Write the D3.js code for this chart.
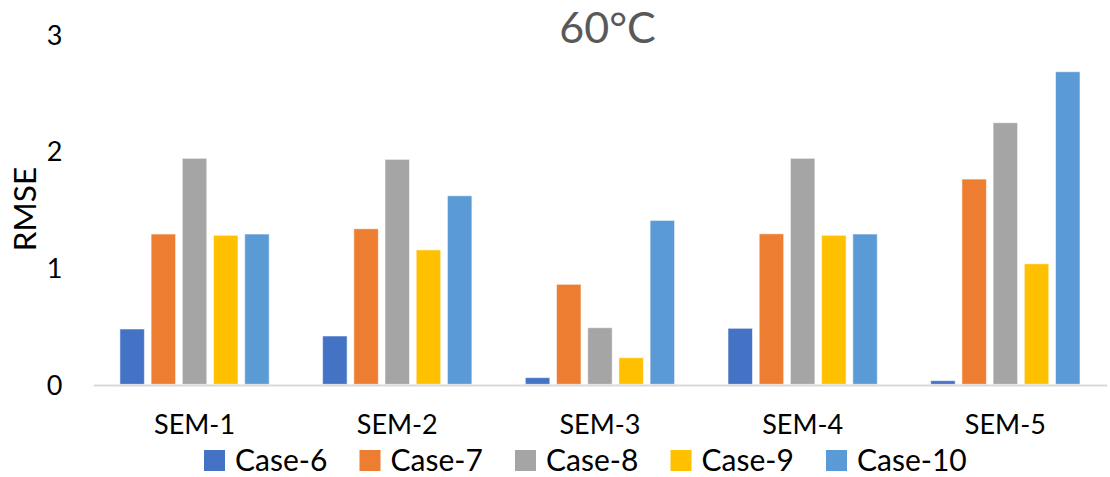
<!DOCTYPE html>
<html>
<head>
<meta charset="utf-8">
<script src="https://cdn.jsdelivr.net/npm/d3@7/dist/d3.min.js"></script>
<style>
  html, body { margin: 0; padding: 0; background: #ffffff; }
  svg { display: block; }
  text { font-family: Lato, "Open Sans", sans-serif; }
</style>
</head>
<body>
<svg id="chart" width="1110" height="477"></svg>
<script>
// RMSE per SEM model for each case at 60°C
const categories = ["SEM-1", "SEM-2", "SEM-3", "SEM-4", "SEM-5"];
const seriesNames = ["Case-6", "Case-7", "Case-8", "Case-9", "Case-10"];
const case6  = [0.474, 0.414, 0.057, 0.480, 0.031];
const case7  = [1.288, 1.333, 0.857, 1.290, 1.759];
const case8  = [1.937, 1.928, 0.485, 1.937, 2.242];
const case9  = [1.277, 1.152, 0.228, 1.277, 1.033];
const case10 = [1.288, 1.616, 1.405, 1.288, 2.679];
const yTicks = [0, 1, 2, 3];
const colors = ["#4472C4", "#ED7D31", "#A5A5A5", "#FFC000", "#5B9BD5"];

const seriesValues = [case6, case7, case8, case9, case10];
const rows = categories.map((c, i) => ({
  category: c,
  values: seriesNames.map((s, j) => ({ series: s, value: seriesValues[j][i] }))
}));

const FONT = "Lato, 'Open Sans', sans-serif";
const svg = d3.select("#chart");

const x0 = d3.scaleBand().domain(categories).range([93.2, 1106.7]).padding(0);
const x1 = d3.scaleBand().domain(seriesNames).range([0, x0.bandwidth()])
  .paddingInner(0.215).paddingOuter(0.856);
const y = d3.scaleLinear().domain([0, 3]).range([384.3, 34.3]);
const color = d3.scaleOrdinal().domain(seriesNames).range(colors);

// Title
svg.append("text")
  .attr("x", 607.5).attr("y", 43.3)
  .attr("text-anchor", "middle")
  .attr("font-size", 43)
  .attr("fill", "#595959")
  .text("60°C");

// Y axis labels (no line, no ticks)
const yAxis = d3.axisLeft(y).tickValues(yTicks).tickSize(0).tickPadding(0).tickFormat(d3.format("d"));
const gy = svg.append("g").attr("transform", "translate(62.5,0)").call(yAxis);
gy.select(".domain").remove();
gy.selectAll("text")
  .attr("font-family", FONT)
  .attr("font-size", 27)
  .attr("fill", "#000")
  .attr("dy", "0.36em");

// Y axis title
svg.append("text")
  .attr("transform", "translate(35.5,209) rotate(-90)")
  .attr("text-anchor", "middle")
  .attr("font-size", 31.5)
  .attr("fill", "#000")
  .text("RMSE");

// Bars
const groups = svg.append("g").selectAll("g")
  .data(rows).join("g")
  .attr("transform", d => `translate(${x0(d.category)},0)`);

groups.selectAll("rect")
  .data(d => d.values).join("rect")
  .attr("x", d => x1(d.series))
  .attr("width", x1.bandwidth())
  .attr("y", d => y(d.value))
  .attr("height", d => y(0) - y(d.value))
  .attr("fill", d => color(d.series))
  .attr("stroke", "rgba(255,255,255,0.55)")
  .attr("stroke-width", 1);

// X axis baseline and category labels
const xAxis = d3.axisBottom(x0).tickSize(0).tickPadding(0);
const gx = svg.append("g").attr("transform", `translate(0,${y(0) + 0.8})`).call(xAxis);
gx.select(".domain")
  .attr("stroke", "#d9d9d9")
  .attr("stroke-width", 2);
gx.selectAll("text")
  .attr("font-family", FONT)
  .attr("font-size", 27)
  .attr("fill", "#000")
  .attr("dy", null)
  .attr("y", 49.4);

// Legend
const legend = svg.append("g");
const legendStart = 204, legendStep = 155.5;
const items = legend.selectAll("g")
  .data(seriesNames).join("g")
  .attr("transform", (d, i) => `translate(${legendStart + i * legendStep},0)`);
items.append("rect")
  .attr("x", 0).attr("y", 450)
  .attr("width", 21).attr("height", 21)
  .attr("fill", d => color(d));
items.append("text")
  .attr("x", 31).attr("y", 470.5)
  .attr("font-size", 30)
  .attr("fill", "#000")
  .text(d => d);
</script>
</body>
</html>
